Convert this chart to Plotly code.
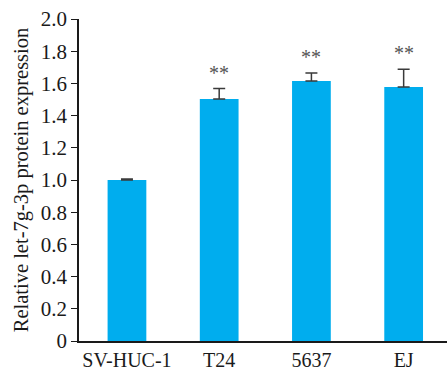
import plotly.graph_objects as go

categories = ["SV-HUC-1", "T24", "5637", "EJ"]
values = [1.0, 1.503, 1.615, 1.578]
errors = [0.006, 0.065, 0.05, 0.11]
signif = ["", "**", "**", "**"]
y_ticks = [0, 0.2, 0.4, 0.6, 0.8, 1.0, 1.2, 1.4, 1.6, 1.8, 2.0]
y_tick_labels = ["0", "0.2", "0.4", "0.6", "0.8", "1.0", "1.2", "1.4", "1.6", "1.8", "2.0"]

font = "Liberation Serif, Times New Roman, serif"

fig = go.Figure()
fig.add_trace(go.Bar(
    x=categories, y=values, width=0.42,
    marker=dict(color="#00ADEE", line=dict(width=0)),
    error_y=dict(type="data", array=errors, arrayminus=[0]*len(errors), symmetric=False,
                 color="#3a3a3a", thickness=1.5, width=6),
))

for i, (v, e, s) in enumerate(zip(values, errors, signif)):
    if s:
        fig.add_annotation(x=i, y=v + e, text=s, showarrow=False, yanchor="bottom",
                           yshift=3, font=dict(family=font, size=20, color="#555555"))

fig.update_layout(
    width=447, height=372,
    margin=dict(l=79, r=0, t=19, b=31),
    paper_bgcolor="white", plot_bgcolor="white",
    showlegend=False,
    font=dict(family=font, size=20, color="#1a1a1a"),
)
fig.update_xaxes(
    type="category", range=[-0.52, 3.47], showline=True, linecolor="#1a1a1a", linewidth=1.5,
    ticks="", showgrid=False, tickfont=dict(size=20),
)
fig.update_yaxes(
    range=[0, 2.0], tickvals=y_ticks, ticktext=y_tick_labels,
    showline=True, linecolor="#1a1a1a", linewidth=1.5,
    ticks="outside", ticklen=6, tickwidth=1.2, tickcolor="#1a1a1a",
    showgrid=False, zeroline=False, tickfont=dict(size=21),
    title=dict(text="Relative let-7g-3p protein expression", font=dict(size=20.5), standoff=7),
)

fig.write_html("out.html")
